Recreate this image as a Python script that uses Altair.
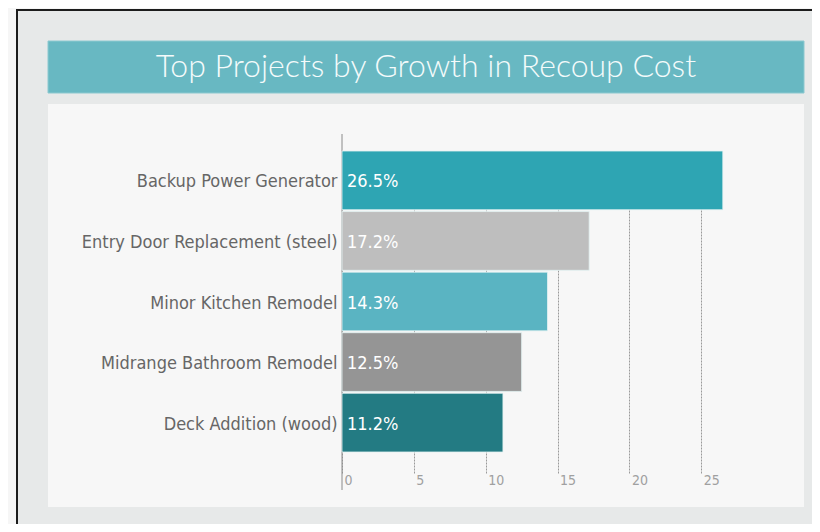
import altair as alt
import pandas as pd

title_text = "Top Projects by Growth in Recoup Cost"
projects = [
    "Backup Power Generator",
    "Entry Door Replacement (steel)",
    "Minor Kitchen Remodel",
    "Midrange Bathroom Remodel",
    "Deck Addition (wood)",
]
growth = [26.5, 17.2, 14.3, 12.5, 11.2]
bar_colors = ["#2ea5b3", "#bebebe", "#5ab4c2", "#959595", "#237b83"]
tick_values = [0, 5, 10, 15, 20, 25]

df = pd.DataFrame({"project": projects, "growth": growth, "color": bar_colors})
df["label"] = [f"{v:.1f}%" for v in growth]

FONT = "DejaVu Sans Condensed"
W, H = 462, 356

x_scale = alt.Scale(domain=[0, 32.15], nice=False, zero=True)
y_scale = alt.Scale(domain=projects, range=[17, 318], paddingInner=0.03, paddingOuter=0)

one = pd.DataFrame({"t": [title_text]})

# decorative frame / panels (pixel offsets relative to plot area)
outside_left = alt.Chart(one).mark_rect(fill="#f6f6f6").encode(
    x=alt.value(-334), x2=alt.value(-325), y=alt.value(-126), y2=alt.value(400)
)
outside_top = alt.Chart(one).mark_rect(fill="#f6f6f6").encode(
    x=alt.value(-334), x2=alt.value(470), y=alt.value(-126), y2=alt.value(-124)
)
frame = alt.Chart(one).mark_rect(fill=None, stroke="#1c1c1c", strokeWidth=2).encode(
    x=alt.value(-325), x2=alt.value(520), y=alt.value(-124), y2=alt.value(460)
)
panel_left = alt.Chart(one).mark_rect(fill="#f7f7f7").encode(
    x=alt.value(-294), x2=alt.value(0), y=alt.value(-30), y2=alt.value(373)
)
panel_top = alt.Chart(one).mark_rect(fill="#f7f7f7").encode(
    x=alt.value(0), x2=alt.value(462), y=alt.value(-30), y2=alt.value(0)
)
panel_bottom = alt.Chart(one).mark_rect(fill="#f7f7f7").encode(
    x=alt.value(0), x2=alt.value(462), y=alt.value(356), y2=alt.value(373)
)
banner = alt.Chart(one).mark_rect(fill="#68b8c2", stroke="#8cc9d0", strokeWidth=1).encode(
    x=alt.value(-294), x2=alt.value(462), y=alt.value(-93), y2=alt.value(-41)
)
title = alt.Chart(one).mark_text(
    font="Lato", fontSize=32, fontWeight=300, color="#f4fbfb", align="center", baseline="middle"
).encode(x=alt.value(84), y=alt.value(-67), text="t:N")

base = alt.Chart(df)

bars = base.mark_bar(stroke="#e4f2f3", strokeWidth=1, strokeOpacity=0.8).encode(
    x=alt.X(
        "growth:Q",
        scale=x_scale,
        axis=alt.Axis(
            title=None,
            values=tick_values,
            grid=True,
            gridDash=[2, 1],
            gridColor="#9a9a9a",
            gridWidth=1,
            domain=False,
            ticks=False,
            labelAlign="left",
            labelOffset=2,
            labelPadding=-17,
            labelFont=FONT,
            labelFontSize=14,
            labelColor="#a0a0a0",
            zindex=0,
        ),
    ),
    y=alt.Y(
        "project:N",
        scale=y_scale,
        sort=projects,
        axis=alt.Axis(
            title=None,
            domain=False,
            ticks=False,
            grid=False,
            labelPadding=5,
            labelOffset=2,
            labelFont=FONT,
            labelFontSize=18,
            labelColor="#666666",
            labelLimit=400,
            zindex=1,
        ),
    ),
    color=alt.Color("color:N", scale=None, legend=None),
)

axis_line = alt.Chart(one).mark_rule(color="#8a8a8a", strokeWidth=1).encode(
    x=alt.datum(0, scale=x_scale), y=alt.value(0), y2=alt.value(H)
)

labels = base.mark_text(
    align="left", baseline="middle", dx=5, dy=2, font=FONT, fontSize=18, color="#ffffff"
).encode(
    x=alt.value(0),
    y=alt.Y("project:N", scale=y_scale, sort=projects),
    text="label:N",
)

chart = alt.layer(
    outside_left, outside_top, frame, panel_left, panel_top, panel_bottom, banner, title,
    axis_line, bars, labels
).properties(
    width=W,
    height=H,
    autosize=alt.AutoSizeParams(type="none"),
    padding={"left": 334, "top": 126, "right": 8, "bottom": 34},
    background="#e7e9e9",
).configure_view(
    fill="#f7f7f7", stroke=None
)

chart.save("out.html", embed_options={"renderer": "svg", "actions": False})
